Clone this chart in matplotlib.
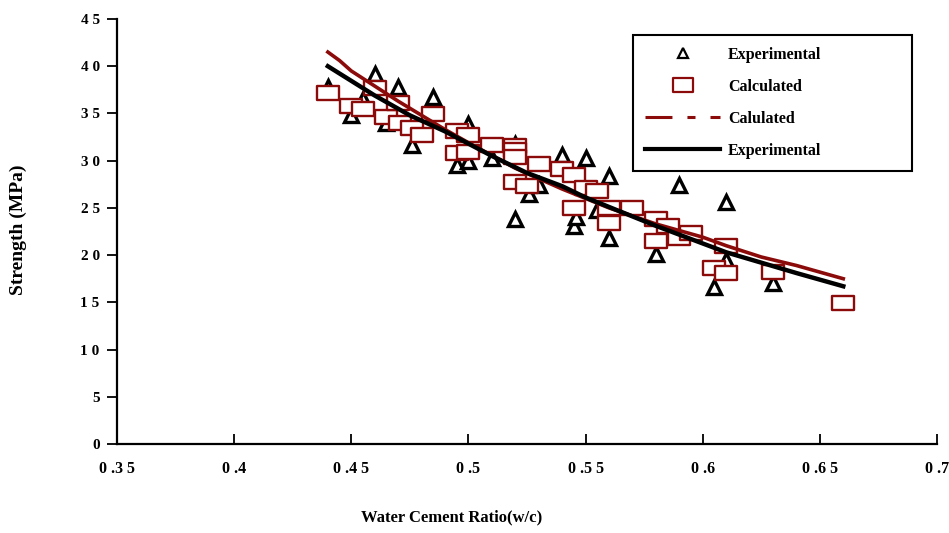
import matplotlib
matplotlib.use("Agg")
import matplotlib.pyplot as plt
from matplotlib.lines import Line2D
from matplotlib.path import Path

plt.rcParams['font.family'] = ['Liberation Serif', 'DejaVu Serif']
plt.rcParams['font.weight'] = 'bold'
plt.rcParams['axes.labelweight'] = 'bold'
plt.rcParams['lines.scale_dashes'] = False

# Experimental points (triangles)
exp_wc = [0.44, 0.45, 0.455, 0.46, 0.465, 0.47, 0.476, 0.485, 0.495, 0.50, 0.50,
          0.51, 0.52, 0.52, 0.526, 0.53, 0.54, 0.545, 0.546, 0.55, 0.555, 0.56,
          0.56, 0.58, 0.59, 0.605, 0.61, 0.61, 0.63]
exp_str = [37.8, 34.8, 36.5, 39.2, 34.0, 37.8, 31.7, 36.7, 29.5, 30.0, 33.9,
           30.3, 31.8, 23.8, 26.5, 27.4, 30.6, 23.1, 24.0, 30.3, 24.8, 28.4,
           21.8, 20.1, 27.4, 16.6, 25.6, 19.5, 17.0]

# Calculated points (rectangles)
calc_wc = [0.44, 0.45, 0.455, 0.46, 0.465, 0.47, 0.471, 0.476, 0.48, 0.485,
           0.495, 0.50, 0.495, 0.50, 0.51, 0.52, 0.52, 0.52, 0.52, 0.525,
           0.53, 0.54, 0.545, 0.55, 0.555, 0.545, 0.56, 0.57, 0.56, 0.58,
           0.585, 0.58, 0.59, 0.595, 0.61, 0.605, 0.61, 0.63, 0.66]
calc_str = [37.2, 35.8, 35.5, 37.7, 34.6, 36.1, 34.0, 33.5, 32.7, 34.9,
            33.1, 32.7, 30.8, 30.9, 31.7, 31.6, 31.1, 30.4, 27.7, 27.3,
            29.7, 29.1, 28.5, 27.1, 26.8, 25.0, 25.0, 25.0, 23.4, 23.8,
            23.1, 21.5, 21.8, 22.3, 21.0, 18.6, 18.1, 18.2, 14.9]

# Calculated curve (dark red)
calc_line_wc = [0.44, 0.445, 0.45, 0.46, 0.47, 0.48, 0.49, 0.50, 0.52, 0.54,
                0.56, 0.58, 0.60, 0.61, 0.625, 0.64, 0.66]
calc_line_str = [41.5, 40.6, 39.5, 37.9, 36.3, 34.8, 33.3, 31.9, 29.2, 27.0,
                 25.0, 23.3, 21.9, 21.0, 19.8, 18.9, 17.5]

# Experimental curve (black)
exp_line_wc = [0.44, 0.46, 0.475, 0.49, 0.50, 0.51, 0.525, 0.54, 0.55, 0.565,
               0.58, 0.595, 0.61, 0.625, 0.64, 0.65, 0.66]
exp_line_str = [40.0, 36.9, 34.8, 33.1, 31.8, 30.5, 28.7, 27.3, 26.1, 24.6,
                23.1, 21.7, 20.3, 19.2, 18.1, 17.4, 16.7]

x_ticks = [0.35, 0.4, 0.45, 0.5, 0.55, 0.6, 0.65, 0.7]
x_ticklabels = ["0 .3 5", "0 .4", "0 .4 5", "0 .5", "0 .5 5", "0 .6", "0 .6 5", "0 .7"]
y_ticks = [0, 5, 10, 15, 20, 25, 30, 35, 40, 45]
y_ticklabels = ["0", "5", "1 0", "1 5", "2 0", "2 5", "3 0", "3 5", "4 0", "4 5"]

RED = '#8B0A0A'

fig = plt.figure(figsize=(9.49, 5.33), dpi=100)
ax = fig.add_axes([117/949, 1 - 444/533, 820/949, 425/533])

rect = Path([(-1, -0.66), (1, -0.66), (1, 0.66), (-1, 0.66), (-1, -0.66)],
            [Path.MOVETO, Path.LINETO, Path.LINETO, Path.LINETO, Path.CLOSEPOLY])

ax.plot(exp_wc, exp_str, linestyle='none', marker='^', ms=9.5, mfc='white',
        mec='black', mew=2.4, zorder=2)
ax.plot(calc_wc, calc_str, linestyle='none', marker=rect, ms=15.5, mfc='white',
        mec=RED, mew=1.7, zorder=3)
ax.plot(calc_line_wc, calc_line_str, color=RED, lw=2.6, zorder=4)
ax.plot(exp_line_wc, exp_line_str, color='black', lw=3.2, zorder=5)

ax.set_xlim(0.35, 0.7)
ax.set_ylim(0, 45)
ax.set_xticks(x_ticks)
ax.set_xticklabels(x_ticklabels, fontsize=11.5)
ax.set_yticks(y_ticks)
ax.set_yticklabels(y_ticklabels, fontsize=11)
ax.tick_params(axis='x', direction='in', length=7, width=1.3, pad=12)
ax.tick_params(axis='y', direction='out', length=7.5, width=1.3, pad=5)
for s in ['top', 'right']:
    ax.spines[s].set_visible(False)
for s in ['left', 'bottom']:
    ax.spines[s].set_linewidth(1.6)

ax.set_xlabel("Water Cement Ratio(w/c)", fontsize=12)
ax.set_ylabel("Strength (MPa)", fontsize=14)
ax.xaxis.set_label_coords((452 - 117) / 820, (444 - 517) / 425)
ax.yaxis.set_label_coords((18 - 117) / 820, (444 - 230) / 425)
ax.xaxis.label.set_va('center')
ax.yaxis.label.set_va('center')

handles = [
    Line2D([], [], linestyle='none', marker='^', ms=7, mfc='white', mec='black', mew=1.6),
    Line2D([], [], linestyle='none', marker=rect, ms=15, mfc='white', mec=RED, mew=1.6),
    Line2D([], [], color=RED, lw=2.2, dashes=(19.4, 10.8, 5.8, 10.8, 7.2, 10.8)),
    Line2D([], [], color='black', lw=3),
]
labels = ["Experimental", "Calculated", "Calulated", "Experimental"]
leg = ax.legend(handles, labels, loc='upper left',
                bbox_to_anchor=(516/820, 0.3, 279/820, (444 - 35)/425 - 0.3),
                mode='expand', borderaxespad=0, fontsize=11.5,
                handlelength=4.7, handletextpad=0.5, labelspacing=1.0,
                borderpad=0.75, fancybox=False, edgecolor='black', framealpha=1)
leg.get_frame().set_linewidth(1.5)

fig.savefig("out.png", dpi=100)
